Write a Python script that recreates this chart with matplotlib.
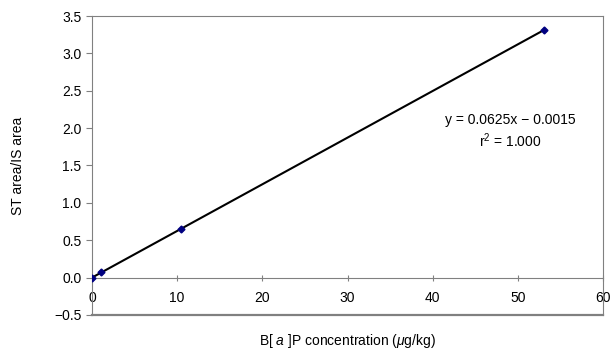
import numpy as np
import matplotlib
matplotlib.use('Agg')
import matplotlib.pyplot as plt

plt.rcParams['font.family'] = ['Liberation Sans', 'DejaVu Sans']
plt.rcParams['mathtext.fontset'] = 'custom'
plt.rcParams['mathtext.rm'] = 'Liberation Sans'
plt.rcParams['mathtext.it'] = 'Liberation Sans:italic'

conc = [0.0, 1.1, 10.5, 53.0]
ratio = [0.0, 0.07, 0.65, 3.31]
slope = 0.0625
intercept = -0.0015
x_ticks = [0, 10, 20, 30, 40, 50, 60]
y_ticks = [-0.5, 0.0, 0.5, 1.0, 1.5, 2.0, 2.5, 3.0, 3.5]

fig = plt.figure(figsize=(6.13, 3.51), dpi=100)
ax = fig.add_axes([0.150, 0.103, 0.834, 0.851])

xfit = np.array([conc[0], conc[-1]])
ax.plot(xfit, slope * xfit + intercept, color='black', lw=1.5, zorder=2)
ax.plot(conc, ratio, linestyle='none', marker='D', ms=3.5, color='#000080', zorder=3)

ax.set_xlim(0, 60)
ax.set_ylim(-0.5, 3.5)
ax.set_xticks(x_ticks)
ax.set_yticks(y_ticks)
ax.set_yticklabels(['%.1f' % v if v >= 0 else '\u2212%.1f' % abs(v) for v in y_ticks])

gray = '#808080'
for s in ['top', 'right', 'left']:
    ax.spines[s].set_color(gray)
ax.spines['bottom'].set_position(('data', 0))
ax.spines['bottom'].set_color(gray)
ax.axhline(-0.5, color=gray, lw=1.6, clip_on=False)

ax.tick_params(axis='x', direction='inout', length=5, color=gray, labelsize=10, pad=7)
ax.tick_params(axis='y', direction='out', length=4, color=gray, labelsize=10)

ax.set_ylabel('ST area/IS area', fontsize=10, labelpad=21)
ax.set_xlabel(r'B[ $\it{a}$ ]P concentration ($\mu$g/kg)', fontsize=10, labelpad=20)

ax.text(49.1, 1.96, 'y = 0.0625x \u2212 0.0015\nr$^2$ = 1.000', ha='center', va='center',
        fontsize=10, linespacing=1.3)

fig.savefig('out.png', dpi=100)
